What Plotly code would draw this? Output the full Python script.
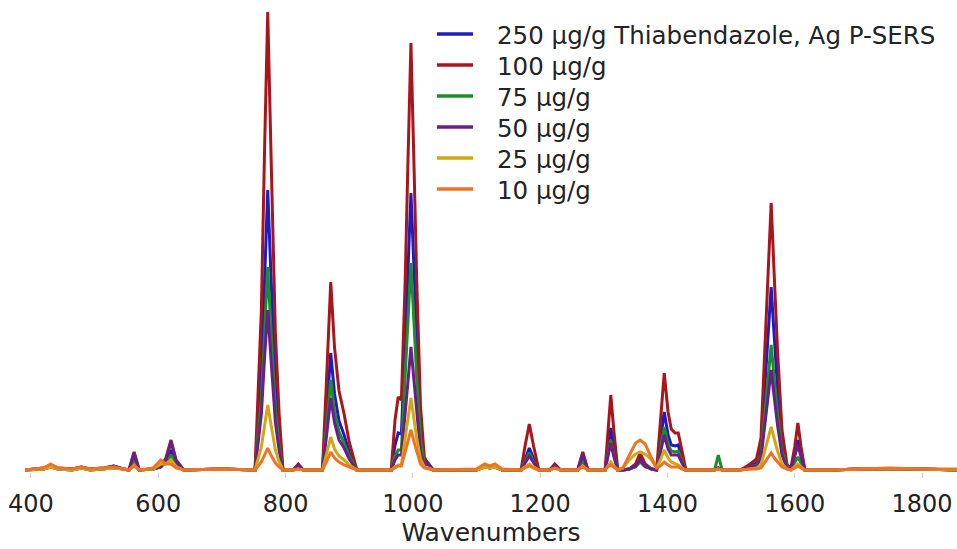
import plotly.graph_objects as go

# Wavenumber sample positions (cm^-1)
wavenumbers = [
    390, 420, 431, 442, 465, 479, 493, 515, 530, 545, 554, 562, 570, 592, 604, 612, 620, 628, 640, 700, 752,
    762, 767, 772, 777, 784, 790, 796,
    812, 820, 828, 858,
    864, 871, 877, 884, 892, 900, 912, 966,
    972, 977, 982, 988, 992, 997, 1002, 1006, 1012, 1018, 1024, 1032,
    1100, 1113, 1121, 1129, 1140, 1170,
    1176, 1183, 1190, 1198, 1215, 1223, 1232, 1259, 1267, 1275, 1302,
    1306, 1311, 1316, 1322,
    1330, 1340, 1350, 1357, 1365, 1375, 1383,
    1389, 1395, 1401, 1406, 1412, 1417, 1423, 1429, 1474, 1480, 1486,
    1515, 1530, 1540, 1547, 1553, 1558, 1563, 1568, 1573, 1580, 1588, 1594,
    1600, 1605, 1610, 1616, 1660, 1700, 1750, 1800, 1855,
]

# Intensities (arbitrary units) for each concentration
int_250 = [
    0, 1, 3, 1, 0, 2, 0, 1, 3, 1, 0, 12, 0, 1, 3, 8, 20, 7, 0, 1, 0,
    98, 196, 280, 196, 84, 34, 0,
    0, 3, 0, 0,
    53, 117, 76, 49, 35, 18, 0, 0,
    25, 37, 36, 125, 194, 277, 194, 125, 42, 10, 7, 0,
    0, 3, 2, 3, 0, 0,
    11, 22, 11, 0, 0, 4, 0, 0, 12, 0, 0,
    21, 42, 21, 0,
    0, 1, 4, 12, 4, 1, 0,
    29, 58, 35, 25, 24, 25, 12, 0, 0, 2, 0,
    0, 4, 7, 22, 82, 132, 183, 132, 82, 27, 4, 1,
    15, 30, 15, 0, 0, 1, 1, 1, 0,
]
int_100 = [
    0, 2, 5, 2, 1, 3, 1, 2, 4, 1, 0, 18, 0, 1, 4, 12, 30, 10, 0, 1, 0,
    160, 320, 458, 320, 137, 55, 0,
    0, 6, 0, 0,
    85, 188, 122, 79, 56, 28, 0, 0,
    50, 73, 70, 190, 300, 427, 300, 192, 64, 13, 6, 0,
    0, 5, 3, 5, 0, 0,
    23, 46, 23, 0, 0, 6, 0, 0, 18, 0, 0,
    38, 75, 38, 0,
    0, 1, 6, 17, 6, 1, 0,
    48, 97, 58, 41, 37, 37, 19, 0, 0, 2, 0,
    0, 6, 11, 32, 120, 192, 267, 192, 120, 40, 5, 2,
    23, 47, 23, 0, 0, 1, 1, 1, 0,
]
int_75 = [
    0, 1, 3, 1, 0, 2, 0, 1, 2, 1, 0, 9, 0, 1, 4, 7, 15, 5, 0, 1, 0,
    71, 142, 203, 142, 61, 24, 0,
    0, 2, 0, 0,
    40, 90, 58, 38, 27, 14, 0, 0,
    14, 20, 20, 93, 145, 207, 145, 93, 31, 6, 5, 0,
    0, 3, 2, 3, 0, 0,
    8, 17, 8, 0, 0, 3, 0, 0, 8, 0, 0,
    15, 30, 15, 0,
    0, 1, 3, 8, 3, 1, 0,
    21, 43, 26, 19, 18, 19, 9, 0, 0, 15, 0,
    0, 3, 5, 15, 56, 90, 125, 90, 56, 19, 3, 1,
    7, 13, 7, 0, 0, 1, 1, 1, 0,
]
int_50 = [
    0, 2, 4, 2, 1, 3, 1, 2, 4, 1, 0, 17, 0, 1, 3, 10, 28, 9, 0, 1, 0,
    56, 112, 160, 112, 48, 19, 0,
    0, 5, 0, 0,
    32, 72, 47, 30, 22, 11, 0, 0,
    10, 15, 15, 55, 86, 123, 86, 55, 18, 5, 6, 0,
    0, 4, 2, 4, 0, 0,
    7, 14, 7, 0, 0, 5, 0, 0, 16, 0, 0,
    13, 27, 13, 0,
    0, 1, 4, 10, 4, 1, 0,
    17, 35, 21, 15, 15, 15, 7, 0, 0, 2, 0,
    0, 3, 4, 12, 45, 72, 100, 72, 45, 15, 2, 1,
    13, 25, 13, 0, 0, 1, 1, 1, 0,
]
int_25 = [
    0, 1, 3, 1, 0, 2, 0, 1, 2, 1, 0, 5, 0, 1, 6, 6, 10, 3, 0, 1, 0,
    23, 46, 65, 46, 20, 8, 0,
    0, 1, 0, 0,
    15, 33, 21, 14, 10, 5, 0, 0,
    3, 5, 5, 32, 50, 72, 50, 32, 11, 3, 2, 0,
    0, 3, 2, 3, 0, 0,
    3, 6, 3, 0, 0, 2, 0, 0, 4, 0, 0,
    4, 8, 4, 0,
    2, 10, 16, 18, 16, 10, 2,
    10, 20, 12, 8, 6, 5, 2, 0, 0, 1, 0,
    0, 1, 2, 5, 19, 31, 43, 31, 19, 6, 1, 0,
    3, 6, 3, 0, 0, 1, 1, 1, 0,
]
int_10 = [
    0, 2, 6, 2, 1, 3, 1, 2, 3, 1, 0, 4, 0, 2, 10, 6, 6, 2, 0, 1, 0,
    8, 15, 22, 15, 7, 3, 0,
    0, 1, 0, 0,
    8, 18, 12, 8, 5, 3, 0, 0,
    2, 4, 4, 18, 28, 40, 28, 18, 6, 2, 1, 0,
    1, 6, 4, 6, 1, 0,
    2, 4, 2, 0, 0, 2, 0, 0, 3, 0, 0,
    3, 5, 3, 0,
    2, 14, 27, 30, 26, 12, 2,
    4, 8, 5, 3, 3, 3, 1, 0, 0, 1, 0,
    0, 1, 1, 2, 8, 12, 17, 12, 8, 3, 1, 0,
    2, 4, 2, 0, 0, 1, 2, 1, 1,
]

series_names = [
    "250 µg/g Thiabendazole, Ag P-SERS",
    "100 µg/g",
    "75 µg/g",
    "50 µg/g",
    "25 µg/g",
    "10 µg/g",
]
series_values = [int_250, int_100, int_75, int_50, int_25, int_10]
series_colors = ["#1c1cc4", "#a8161c", "#1f8c2a", "#6a1f88", "#d2a812", "#ee7424"]

tick_values = [400, 600, 800, 1000, 1200, 1400, 1600, 1800]
tick_labels = ["400", "600", "800", "1000", "1200", "1400", "1600", "1800"]

for v in series_values:
    assert len(v) == len(wavenumbers), (len(v), len(wavenumbers))

W, H = 957, 549
ML, MR, MT, MB = 25, 0, 5, 77
PW, PH = W - ML - MR, H - MT - MB

def px_x(px):
    return (px - ML) / PW

def px_y(py):
    return (H - MB - py) / PH

fig = go.Figure()
for name, vals, col in zip(series_names, series_values, series_colors):
    fig.add_trace(go.Scatter(
        x=wavenumbers, y=vals, mode="lines", name=name,
        line=dict(color=col, width=3), showlegend=False,
    ))

FONT = "DejaVu Sans"
TXT = "#232323"

# Legend drawn as line samples + text labels
shapes = []
annotations = []
for i, (name, col) in enumerate(zip(series_names, series_colors)):
    yc = 34 + 31 * i
    shapes.append(dict(
        type="line", xref="paper", yref="paper",
        x0=px_x(437), x1=px_x(473), y0=px_y(yc), y1=px_y(yc),
        line=dict(color=col, width=3.5),
    ))
    annotations.append(dict(
        text=name, xref="paper", yref="paper", x=px_x(495), y=px_y(yc + 1),
        xanchor="left", yanchor="middle", showarrow=False,
        font=dict(size=24.5, family=FONT, color=TXT),
    ))

fig.update_layout(
    width=W, height=H,
    margin=dict(l=ML, r=MR, t=MT, b=MB),
    paper_bgcolor="white", plot_bgcolor="white",
    font=dict(family=FONT, color=TXT),
    showlegend=False,
    shapes=shapes, annotations=annotations,
    xaxis=dict(
        range=[390.6, 1855], tickmode="array", tickvals=tick_values, ticktext=tick_labels,
        showgrid=False, zeroline=False, showline=False,
        ticks="outside", ticklen=5, tickcolor="#cccccc", ticklabelstandoff=5,
        tickfont=dict(size=24, family=FONT, color=TXT),
        title=dict(text="Wavenumbers", font=dict(size=25, family=FONT, color=TXT), standoff=0),
    ),
    yaxis=dict(range=[-2, 465], visible=False, showgrid=False, zeroline=False),
)

fig.write_html(
    "out.html",
    config={"displayModeBar": False},
    post_script="document.body.style.margin='0px';document.body.style.padding='0px';",
)
